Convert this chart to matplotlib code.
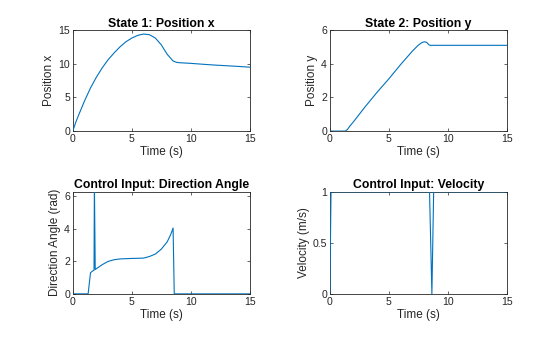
import numpy as np
import matplotlib
matplotlib.use('Agg')
import matplotlib.pyplot as plt

plt.rcParams['font.family'] = ['Liberation Sans', 'DejaVu Sans']

# State 1: position x
t_x = [0, 0.25, 0.5, 1, 1.5, 2, 2.5, 3, 3.5, 4, 4.5, 5, 5.5, 6, 6.5, 7, 7.5, 8, 8.5, 8.8, 9, 10, 11, 12, 13, 14, 15]
pos_x = [0, 1.3, 2.4, 4.5, 6.4, 8.0, 9.4, 10.6, 11.6, 12.5, 13.25, 13.8, 14.2, 14.4, 14.3, 13.8, 12.8, 11.4, 10.4, 10.2, 10.15, 10.05, 9.92, 9.8, 9.7, 9.6, 9.48]

# State 2: position y
t_y = [0, 1.3, 1.5, 1.7, 2, 3, 4, 5, 6, 7, 7.5, 7.8, 8.0, 8.2, 8.4, 8.5, 9, 15]
pos_y = [0, 0, 0.1, 0.3, 0.55, 1.45, 2.3, 3.1, 3.95, 4.75, 5.1, 5.25, 5.3, 5.27, 5.12, 5.09, 5.09, 5.09]

# Control input: direction angle
t_a = [0, 1.3, 1.5, 1.7, 1.8, 1.83, 1.9, 2.5, 3, 3.5, 4, 5, 6, 6.5, 7, 7.5, 8, 8.3, 8.5, 8.6, 15]
angle = [0, 0, 1.3, 1.42, 1.45, 6.9, 1.5, 1.8, 2.0, 2.1, 2.15, 2.18, 2.2, 2.3, 2.45, 2.75, 3.2, 3.65, 4.05, 0, 0]

# Control input: velocity
t_v = [0, 0.1, 8.45, 8.65, 8.8, 15]
vel = [0, 1, 1, 0, 1, 1]

blue = '#0072BD'
dark = '#262626'

fig = plt.figure(figsize=(5.6, 3.37), dpi=100)

positions = [
    [0.130, 0.611, 0.316, 0.300],
    [0.589, 0.611, 0.316, 0.300],
    [0.130, 0.128, 0.316, 0.303],
    [0.589, 0.128, 0.316, 0.303],
]
panels = [
    (t_x, pos_x, 'State 1: Position x', 'Position x', (0, 15), [0, 5, 10, 15]),
    (t_y, pos_y, 'State 2: Position y', 'Position y', (0, 6), [0, 2, 4, 6]),
    (t_a, angle, 'Control Input: Direction Angle', 'Direction Angle (rad)', (0, 2 * np.pi), [0, 2, 4, 6]),
    (t_v, vel, 'Control Input: Velocity', 'Velocity (m/s)', (0, 1), [0, 0.5, 1]),
]

for pos, (t, v, title, ylab, ylim, yticks) in zip(positions, panels):
    ax = fig.add_axes(pos)
    ax.plot(t, v, color=blue, lw=0.8, zorder=3)
    ax.set_xlim(0, 15)
    ax.set_ylim(*ylim)
    ax.set_xticks([0, 5, 10, 15])
    ax.set_yticks(yticks)
    ax.set_yticklabels([('%g' % y) for y in yticks])
    ax.tick_params(direction='in', length=2.5, width=0.5, labelsize=7.6,
                   colors=dark, top=True, right=True, pad=2)
    for s in ax.spines.values():
        s.set_linewidth(0.6)
        s.set_color(dark)
    ax.set_title(title, fontsize=8.8, fontweight='bold', pad=2.5)
    ax.set_xlabel('Time (s)', fontsize=8.5, color=dark, labelpad=1.5)
    ax.set_ylabel(ylab, fontsize=8.5, color=dark, labelpad=2)

fig.savefig('out.png', dpi=100)
